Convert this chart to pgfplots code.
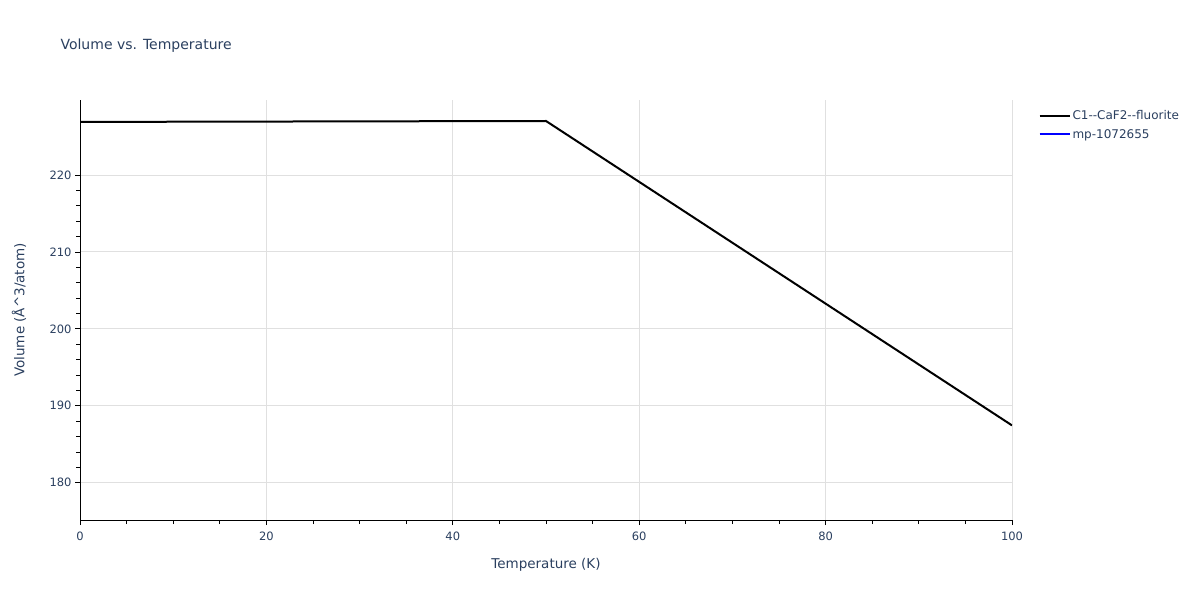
\documentclass[border=0pt]{standalone}
\usepackage{fontspec}
\setmainfont{DejaVu Sans}
\usepackage{pgfplots}
\pgfplotsset{compat=1.18}
\definecolor{txt}{HTML}{2A3F5F}
\definecolor{gridc}{HTML}{E0E0E0}

\begin{document}
\begin{tikzpicture}[x=1pt,y=1pt]
\path[use as bounding box] (0,0) rectangle (1200,600);
\node[anchor=west, text=txt, font=\fontsize{14}{16}\selectfont] at (57,554) {Volume vs. Temperature};
\begin{axis}[
    at={(80pt,80pt)}, anchor=south west,
    scale only axis, width=932pt, height=420pt,
    xmin=0, xmax=100, ymin=175.15, ymax=229.75,
    xtick={0,20,...,100}, ytick={180,190,...,220},
    minor x tick num=3, minor y tick num=4,
    tick align=outside,
    major tick length=5pt, minor tick length=4pt,
    tick style={black, line width=0.8pt},
    axis x line*=bottom, axis y line*=left,
    axis line style={black, line width=1pt, -},
    grid=major, major grid style={gridc, line width=0.9pt},
    ticklabel style={font=\fontsize{11.5}{13}\selectfont, text=txt},
    xticklabel style={yshift=-3pt},
    /pgf/number format/assume math mode=true,
    xlabel={Temperature (K)},
    ylabel={Volume (Å\textasciicircum 3/atom)},
    label style={font=\fontsize{13.5}{15}\selectfont, text=txt},
    xlabel style={at={(axis description cs:0.5,-0.107)}, anchor=center},
    ylabel style={at={(axis description cs:-0.0655,0.5)}, anchor=center},
    legend style={at={(1.025,0.985)}, anchor=north west, draw=none, fill=none,
        font=\fontsize{12}{14}\selectfont, text=txt, row sep=4pt},
    legend cell align=left,
    legend image code/.code={\draw[#1] (0pt,0pt) -- (30pt,0pt);},
]
\addplot[black, line width=2pt] coordinates {
    (0,226.90) (50,227.02) (100,187.45)
};
\addlegendentry{C1-{}-CaF2-{}-fluorite}
\addlegendimage{blue, line width=2pt}
\addlegendentry{mp-1072655}
\end{axis}
\end{tikzpicture}
\end{document}
